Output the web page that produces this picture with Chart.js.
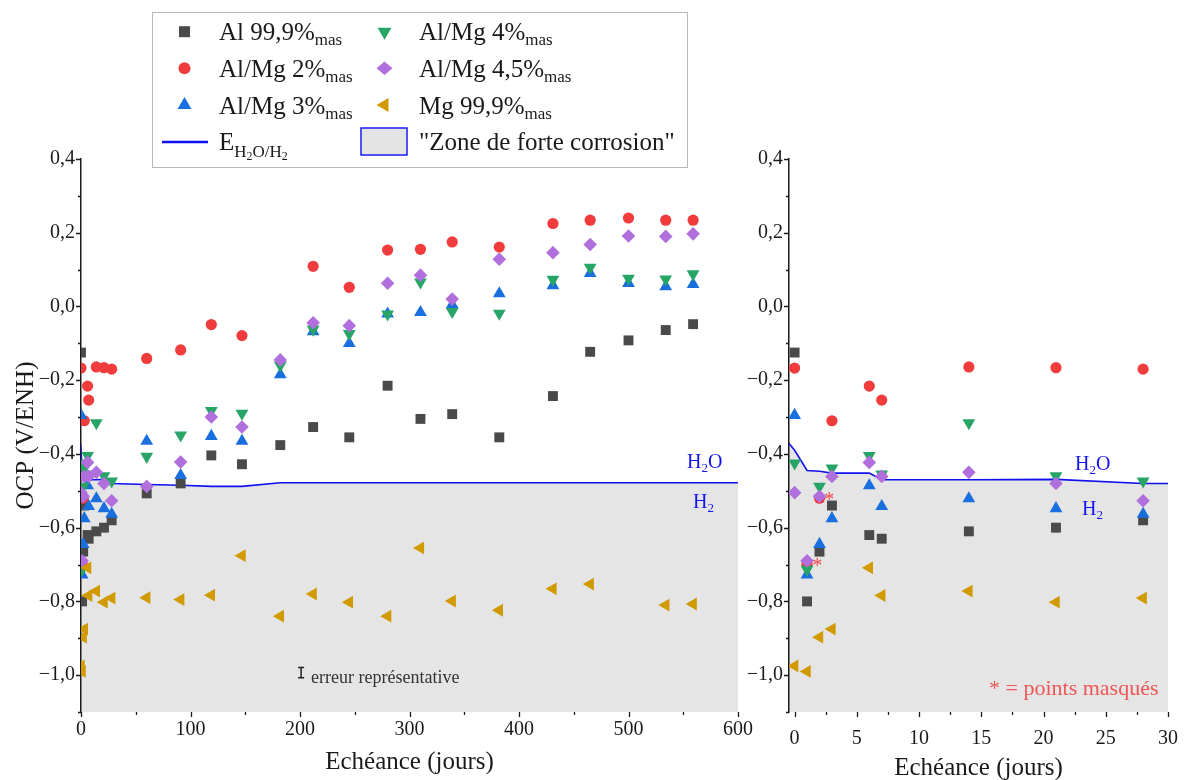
<!DOCTYPE html>
<html><head><meta charset="utf-8">
<script src="https://cdn.jsdelivr.net/npm/chart.js@4.4.1/dist/chart.umd.min.js"></script>
<style>
html,body{margin:0;padding:0;background:#fff;}
#wrap{position:relative;width:1184px;height:780px;overflow:hidden;font-family:'Liberation Serif',serif;background:#fff;}
canvas{position:absolute;top:0;}
.t{position:absolute;white-space:nowrap;line-height:25px;font-size:25px;color:#1a1a1a;}
.s{font-size:17px;vertical-align:-5px;}
.e{font-size:17px;vertical-align:-7px;}
.e2{font-size:12px;vertical-align:-3px;}
.a{position:absolute;white-space:nowrap;}
</style></head>
<body>
<div id="wrap">
  <canvas id="c1" width="770" height="780" style="left:0"></canvas>
  <canvas id="c2" width="439" height="780" style="left:745px"></canvas>
  <div id="legbox" style="position:absolute;left:152px;top:12px;width:534px;height:154px;border:1px solid #b8b8b8;background:#fff;"></div>
  <canvas id="lg" width="1184" height="180" style="left:0;top:0"></canvas>
  <div class="t" style="left:219px;top:19px">Al 99,9%<span class="s">mas</span></div>
  <div class="t" style="left:219px;top:56px">Al/Mg 2%<span class="s">mas</span></div>
  <div class="t" style="left:219px;top:93px">Al/Mg 3%<span class="s">mas</span></div>
  <div class="t" style="left:219px;top:129px">E<span class="e">H<span class="e2">2</span>O/H<span class="e2">2</span></span></div>
  <div class="t" style="left:419px;top:19px">Al/Mg 4%<span class="s">mas</span></div>
  <div class="t" style="left:419px;top:56px">Al/Mg 4,5%<span class="s">mas</span></div>
  <div class="t" style="left:419px;top:93px">Mg 99,9%<span class="s">mas</span></div>
  <div class="t" style="left:419px;top:129px">"Zone de forte corrosion"</div>

  <div class="a" style="left:687px;top:451px;font-size:20px;line-height:20px;color:#1414f0">H<span style="font-size:13px;vertical-align:-4px">2</span>O</div>
  <div class="a" style="left:693px;top:491px;font-size:20px;line-height:20px;color:#1414f0">H<span style="font-size:13px;vertical-align:-4px">2</span></div>
  <div class="a" style="left:1075px;top:453px;font-size:20px;line-height:20px;color:#1414f0">H<span style="font-size:13px;vertical-align:-4px">2</span>O</div>
  <div class="a" style="left:1082px;top:498px;font-size:20px;line-height:20px;color:#1414f0">H<span style="font-size:13px;vertical-align:-4px">2</span></div>
  <div class="a" style="left:311px;top:668px;font-size:18px;line-height:18px;color:#333">erreur représentative</div>
  <div class="a" style="left:989px;top:677px;font-size:22px;line-height:22px;color:#f25555">* = points masqués</div>
</div>
<script>
// ---------- DATA ----------
const days   = [0,1,2,3,6,7,14,21,28,60,91,119,147,182,212,245,280,310,339,382,431,465,500,534,559];
const al999  = [-0.125,-0.80,-0.665,-0.54,-0.62,-0.63,-0.61,-0.60,-0.58,-0.507,-0.48,-0.404,-0.428,-0.376,-0.327,-0.355,-0.215,-0.305,-0.292,-0.355,-0.243,-0.123,-0.092,-0.064,-0.048];
const almg2  = [-0.167,-0.70,-0.52,-0.31,-0.216,-0.254,-0.164,-0.166,-0.17,-0.141,-0.118,-0.049,-0.079,null,0.109,0.052,0.153,0.155,0.175,0.161,0.225,0.234,0.24,0.234,0.234];
const almg3  = [-0.295,-0.728,-0.645,-0.575,-0.486,-0.542,-0.521,-0.548,-0.563,-0.365,-0.458,-0.352,-0.365,-0.185,-0.068,-0.10,-0.02,-0.016,0.005,0.035,0.057,0.09,0.063,0.054,0.06];
const almg4  = [-0.425,-0.713,-0.488,-0.439,-0.405,-0.455,-0.316,-0.46,-0.474,-0.407,-0.349,-0.283,-0.29,-0.16,-0.062,-0.074,-0.021,0.066,-0.014,-0.019,0.073,0.106,0.076,0.074,0.088];
const almg45 = [-0.505,-0.69,-0.515,-0.461,-0.423,-0.461,-0.45,-0.48,-0.527,-0.488,-0.422,-0.30,-0.327,-0.145,-0.044,-0.052,0.063,0.085,0.02,0.128,0.146,0.168,0.191,0.19,0.197];
const mg999  = [-0.975,-0.99,-0.897,-0.875,-0.709,-0.784,-0.772,-0.802,-0.791,-0.79,-0.795,-0.783,-0.676,-0.84,-0.78,-0.802,-0.84,-0.655,-0.799,-0.824,-0.766,-0.753,null,-0.81,-0.807];
const eDays  = [-0.5,0,1,2,3,6,7,14,21,28,60,91,119,147,182,600];
const eVals  = [-0.37,-0.39,-0.445,-0.447,-0.452,-0.452,-0.47,-0.47,-0.469,-0.48,-0.483,-0.485,-0.488,-0.488,-0.478,-0.478];
const yLabels     = [-1.0,-0.8,-0.6,-0.4,-0.2,0.0,0.2,0.4];
const yMinor      = [-1.1,-0.9,-0.7,-0.5,-0.3,-0.1,0.1,0.3];
const xLabelsLong = [0,100,200,300,400,500,600];
const xMinorLong  = [50,150,250,350,450,550];
const xLabelsShort= [0,5,10,15,20,25,30];
const xMinorShort = [2.5,7.5,12.5,17.5,22.5,27.5];
const errBar = {x:201, y:-0.993, h:0.014};
const maskedStars = [{x:2.79, y:-0.513},{x:1.82, y:-0.693}];

// ---------- STYLE ----------
const FONT = "'Liberation Serif', serif";
const series = [
  {name:'Al 99,9%', vals:al999,  color:'#4a4a4a', style:'rect',     r:7.0, rot:0,   order:6},
  {name:'Al/Mg 2%', vals:almg2,  color:'#f03c3c', style:'circle',   r:5.6, rot:0,   order:5},
  {name:'Al/Mg 3%', vals:almg3,  color:'#1a6fdf', style:'triangle', r:7.4, rot:0,   order:4},
  {name:'Al/Mg 4%', vals:almg4,  color:'#27a567', style:'triangle', r:7.4, rot:180, order:3},
  {name:'Al/Mg 4,5%', vals:almg45, color:'#b06fdc', style:'rectRot', r:6.8, rot:0, order:2},
  {name:'Mg 99,9%', vals:mg999,  color:'#d19a00', style:'triangle', r:7.4, rot:270, order:1},
];
const LINE_COLOR = '#1010f0';

function buildDatasets(xmin, xmax){
  const ds = series.map(s => ({
    type:'scatter', label:s.name,
    data: days.map((d,i)=>({x:d,y:s.vals[i]})).filter(p=>p.y!==null && p.x>=xmin && p.x<=xmax),
    pointStyle:s.style, pointRadius:s.r, pointRotation:s.rot,
    backgroundColor:s.color, borderColor:s.color, borderWidth:0, order:s.order
  }));
  ds.push({
    type:'line', label:'E',
    data: eDays.map((d,i)=>({x:d,y:eVals[i]})).filter(p=>p.x>=xmin-0.5),
    borderColor:LINE_COLOR, borderWidth:1.6, pointRadius:0, tension:0,
    fill:'start', backgroundColor:'#e5e5e5', order:10
  });
  return ds;
}

const fmtY = v => { const s = Math.abs(v) < 1e-9 ? '0,0' : v.toFixed(1).replace('.',','); return s.replace('-','\u2212'); };

const axisTicks = {
  id:'axisTicks',
  afterDraw(chart, args, o){
    const {ctx, chartArea:a} = chart; const xs = chart.scales.x, ys = chart.scales.y;
    ctx.save(); ctx.strokeStyle='#1a1a1a'; ctx.lineWidth=1.3; ctx.beginPath();
    o.xMajor.forEach(v=>{const p=Math.round(xs.getPixelForValue(v))+0.5; ctx.moveTo(p,a.bottom); ctx.lineTo(p,a.bottom+5);});
    o.xMinor.forEach(v=>{const p=Math.round(xs.getPixelForValue(v))+0.5; ctx.moveTo(p,a.bottom); ctx.lineTo(p,a.bottom+3);});
    yLabels.forEach(v=>{const p=Math.round(ys.getPixelForValue(v))+0.5; ctx.moveTo(a.left,p); ctx.lineTo(a.left-5,p);});
    yMinor.forEach(v=>{const p=Math.round(ys.getPixelForValue(v))+0.5; ctx.moveTo(a.left,p); ctx.lineTo(a.left-3,p);});
    ctx.stroke();
    if (o.err) {
      const x = xs.getPixelForValue(o.err.x), y1 = ys.getPixelForValue(o.err.y+o.err.h), y2 = ys.getPixelForValue(o.err.y-o.err.h);
      ctx.strokeStyle='#222'; ctx.lineWidth=1.5; ctx.beginPath();
      ctx.moveTo(x,y1); ctx.lineTo(x,y2); ctx.moveTo(x-3,y1); ctx.lineTo(x+3,y1); ctx.moveTo(x-3,y2); ctx.lineTo(x+3,y2);
      ctx.stroke();
    }
    if (o.stars) {
      ctx.fillStyle='#f04848'; ctx.font="20px "+FONT; ctx.textAlign='center'; ctx.textBaseline='alphabetic';
      o.stars.forEach(s=>{ ctx.fillText('*', xs.getPixelForValue(s.x), ys.getPixelForValue(s.y)+10); });
    }
    ctx.restore();
  }
};

function makeChart(id, cfg){
  return new Chart(document.getElementById(id), {
    data:{datasets:buildDatasets(cfg.xmin, cfg.xmax)},
    plugins:[axisTicks],
    options:{
      responsive:false, animation:false, devicePixelRatio:1,
      layout:{padding:{left:0,right:cfg.padR,top:159,bottom:0}},
      plugins:{legend:{display:false}, tooltip:{enabled:false}, filler:{drawTime:'beforeDraw'},
        axisTicks:{xMajor:cfg.xLabels, xMinor:cfg.xMinor, err:cfg.err, stars:cfg.stars}},
      scales:{
        x:{type:'linear', position:'bottom', min:cfg.xmin, max:cfg.xmax,
          afterBuildTicks:s=>{ s.ticks = cfg.xLabels.map(v=>({value:v})); },
          afterFit:s=>{ s.height = 68; s.paddingLeft = 0; s.paddingRight = 0; },
          grid:{display:false, drawTicks:false}, border:{display:false},
          ticks:{padding:cfg.xPad, autoSkip:false, maxRotation:0, color:'#1a1a1a', font:{family:FONT,size:20}, callback:v=>String(v)},
          title:{display:true, text:'Echéance (jours)', color:'#1a1a1a', font:{family:FONT,size:25,lineHeight:1}, padding:{top:0,bottom:cfg.tPad}}
        },
        y:{type:'linear', position:'left', min:-1.1, max:0.4,
          afterBuildTicks:s=>{ s.ticks = yLabels.map(v=>({value:v})); },
          afterFit:s=>{ s.width = cfg.yW; },
          grid:{display:false, drawTicks:false}, border:{display:true, color:'#1a1a1a', width:1.5},
          ticks:{padding:6, color:'#1a1a1a', font:{family:FONT,size:20}, callback:v=>fmtY(v)},
          title:{display:cfg.yTitle, text:'OCP (V/ENH)', color:'#1a1a1a', font:{family:FONT,size:25,lineHeight:1}, padding:{top:14,bottom:0}}
        }
      }
    }
  });
}

makeChart('c1', {xmin:0, xmax:600, padR:32, xLabels:xLabelsLong, xMinor:xMinorLong, xPad:6, tPad:5, yW:81, yTitle:true, err:errBar});
makeChart('c2', {xmin:-0.45, xmax:30, padR:16, xLabels:xLabelsShort, xMinor:xMinorShort, xPad:15, tPad:-1, yW:44, yTitle:false, stars:maskedStars});

// ---------- LEGEND MARKERS ----------
(function(){
  const ctx = document.getElementById('lg').getContext('2d');
  function mk(style, x, y, r, rot, color){
    ctx.fillStyle=color; ctx.beginPath();
    if (style==='rect'){ ctx.rect(x-r, y-r, 2*r, 2*r); }
    else if (style==='circle'){ ctx.arc(x,y,r,0,Math.PI*2); }
    else if (style==='rectRot'){ ctx.moveTo(x-r,y); ctx.lineTo(x,y-r*0.85); ctx.lineTo(x+r,y); ctx.lineTo(x,y+r*0.85); ctx.closePath(); }
    else { let a = rot*Math.PI/180; for(let k=0;k<3;k++){ const px=x+Math.sin(a)*r, py=y-Math.cos(a)*r; k?ctx.lineTo(px,py):ctx.moveTo(px,py); a+=2*Math.PI/3; } ctx.closePath(); }
    ctx.fill();
  }
  const pos = [[184.5,31.7],[184.5,68.3],[184.5,105],[384.5,31.7],[384.5,68.3],[384.5,105]];
  const sz = {rect:5.5, circle:6, triangle:8, rectRot:8};
  series.forEach((s,i)=>mk(s.style, pos[i][0], pos[i][1], sz[s.style], s.rot, s.color));
  ctx.strokeStyle=LINE_COLOR; ctx.lineWidth=2.5; ctx.beginPath(); ctx.moveTo(162,142); ctx.lineTo(208,142); ctx.stroke();
  ctx.fillStyle='#e4e4e4'; ctx.fillRect(361,128,46,27);
  ctx.strokeStyle='#1a1aff'; ctx.lineWidth=1.5; ctx.strokeRect(361,128,46,27);
})();
</script>
</body></html>
